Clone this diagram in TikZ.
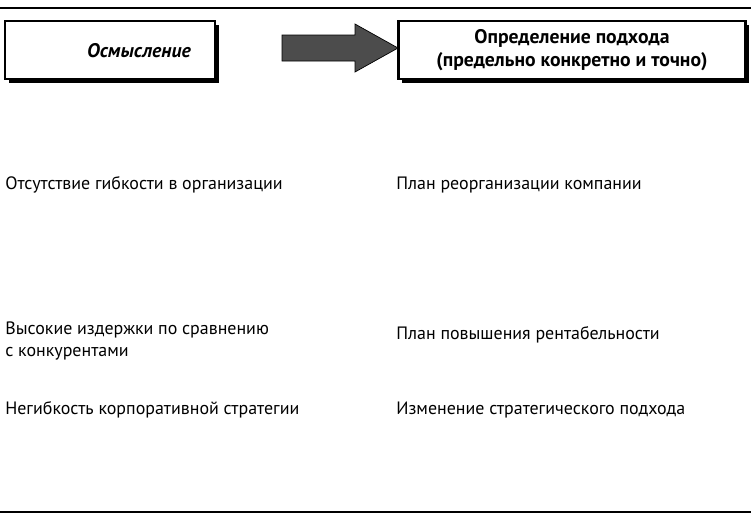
\documentclass[tikz,border=0pt]{standalone}
\usepackage{fontspec}
\setmainfont{PT Sans}
\usetikzlibrary{positioning}
\tikzset{
  headbox/.style={draw=black, line width=1.2pt, fill=white, font=\fontsize{11.2}{13.5}\selectfont\bfseries, align=center,
    inner sep=0pt},
  itemtext/.style={anchor=west, inner sep=0pt, align=left, font=\fontsize{10.2}{12.8}\selectfont}
}
\begin{document}
\begin{tikzpicture}[x=0.02cm, y=-0.02cm]
  \useasboundingbox (0,0) rectangle (751,522);
  % rules
  \draw[line width=0.8pt] (0,8)--(751,8);
  \draw[line width=0.8pt] (0,512)--(751,512);
  % heading boxes
  \fill[black] (9,25) rectangle (219,83);
  \node[headbox, minimum width=210*0.02cm, minimum height=58*0.02cm] (sense) at (110,50) {};
  \node[font=\fontsize{11.2}{13.5}\selectfont\bfseries\itshape] (senselabel) at (139,51) {Осмысление};
  \fill[black] (402,25) rectangle (749,83);
  \node[headbox, minimum width=347*0.02cm, minimum height=58*0.02cm] (approach) at (572,50)
    {Определение подхода\\(предельно конкретно и точно)};
  % block arrow
  \coordinate (tip) at (398,48);
  \filldraw[fill=black!70, draw=black] (282,35) -- (355,35) -- (355,24) -- (tip)
    -- (355,72) -- (355,61) -- (282,61) -- cycle;
  % left column
  \node[itemtext] (noflex) at (5,185) {Отсутствие гибкости в организации};
  \node[itemtext] (costs) at (5,341) {Высокие издержки по сравнению\\с конкурентами};
  \node[itemtext] (rigid) at (5,410) {Негибкость корпоративной стратегии};
  % right column
  \node[itemtext] (reorg) at (396,185) {План реорганизации компании};
  \node[itemtext] (profit) at (396,335) {План повышения рентабельности};
  \node[itemtext] (change) at (396,410) {Изменение стратегического подхода};
\end{tikzpicture}
\end{document}
